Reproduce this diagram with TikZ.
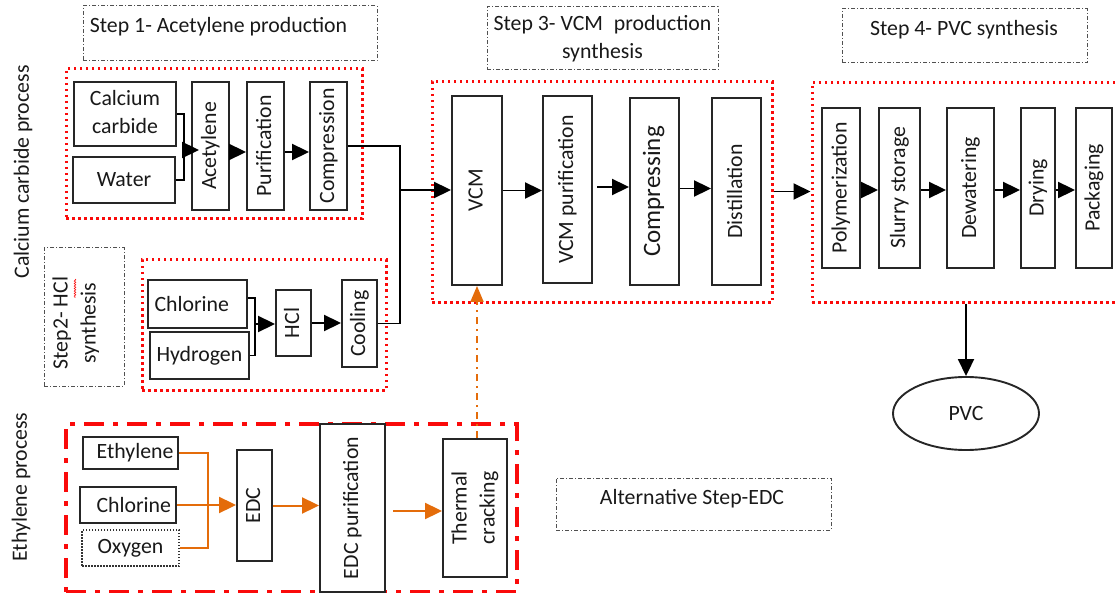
\documentclass[tikz,border=0pt]{standalone}
\usepackage{fontspec}
\setmainfont{Carlito}
\usetikzlibrary{arrows.meta,decorations.pathmorphing,calc,shapes.geometric}
\definecolor{myred}{RGB}{250,10,10}
\definecolor{myorange}{RGB}{228,108,10}
\definecolor{lblgray}{RGB}{80,80,80}
\newcommand{\vt}[1]{\rotatebox{90}{\begin{tabular}{@{}c@{}}#1\end{tabular}}}
\begin{document}
\begin{tikzpicture}[x=1pt,y=-1pt,
  every node/.style={font=\fontsize{21.8}{28}\selectfont, inner sep=0pt, text=black!90},
  box/.style={draw=black!85, line width=1.9pt, fill=white, rectangle, inner sep=0pt},
  redbox/.style={draw=myred, line width=3pt, dash pattern=on 2.5pt off 3.5pt, rectangle, inner sep=0pt},
  redchain/.style={draw=myred, line width=3.2pt, dash pattern=on 20pt off 9pt on 5pt off 9pt, rectangle, inner sep=0pt},
  lblbox/.style={draw=lblgray, line width=1pt, dash pattern=on 4pt off 2pt on 1pt off 2pt, rectangle, inner sep=0pt},
  arr/.style={line width=1.9pt, -{Triangle[length=17pt,width=16pt]}},
  ln/.style={line width=1.9pt},
  oarr/.style={draw=myorange, line width=2pt, -{Triangle[length=17pt,width=16pt]}},
  oln/.style={draw=myorange, line width=2pt},
]
\useasboundingbox (0,0) rectangle (1115,593);

% red group frames
\node[redbox, minimum width=296, minimum height=150] (R1) at (214,144) {};
\node[redbox, minimum width=244, minimum height=130] (R2) at (264,325) {};
\node[redbox, minimum width=340, minimum height=220] (R3) at (602,192) {};
\node[redbox, minimum width=306, minimum height=219] (R4) at (965,192.5) {};
\node[redchain, minimum width=451, minimum height=168] (R5) at (291.5,508) {};

% step labels
\node[lblbox, minimum width=294, minimum height=55] (S1) at (230,33.5) {};
\node (S1t) at (218.5,27) {Step 1- Acetylene production};
\node[lblbox, minimum width=231, minimum height=63, align=center] (S3) at (602.5,38.5) {Step 3- VCM\hspace{6pt} production\\synthesis};
\node[lblbox, minimum width=245, minimum height=54] (S4) at (964.5,36) {};
\node (S4t) at (964,30) {Step 4- PVC synthesis};
\node[lblbox, minimum width=80, minimum height=138] (S2) at (84,317) {};
\node (S2t) at (76,323) {\vt{Step2- HCl\\synthesis}};
\draw[myred, line width=0.6pt, decorate, decoration={snake, amplitude=0.8pt, segment length=2.5pt}] (75,279) -- (75,298);
\node[lblbox, minimum width=275, minimum height=52] (SA) at (693.5,504) {};
\node (SAt) at (692,499) {Alternative Step-EDC};

% process side labels
\node (cp) at (23,172) {\rotatebox{90}{Calcium carbide process}};
\node (ep) at (21,487) {\rotatebox{90}{Ethylene process}};

% Step 1 boxes
\node[box, minimum width=102, minimum height=64] (cac) at (125,114) {\begin{tabular}{@{}c@{}}Calcium\\carbide\end{tabular}};
\node[box, minimum width=102, minimum height=46] (wat) at (124,180) {Water};
\node[box, minimum width=37, minimum height=128] (acet) at (210.5,146) {\vt{Acetylene}};
\node[box, minimum width=37, minimum height=128] (pur) at (265.5,146) {\vt{Purification}};
\node[box, minimum width=37, minimum height=128] (comp) at (328.5,146) {\vt{Compression}};

% Step 2 boxes
\node[box, minimum width=99, minimum height=48, text width=86, align=left] (chl) at (197.5,304) {Chlorine};
\node[box, minimum width=99, minimum height=47, text width=86, align=left] (hyd) at (199.5,355.5) {Hydrogen};
\node[box, minimum width=35, minimum height=66] (hcl) at (293.5,323) {\vt{HCl}};
\node[box, minimum width=35, minimum height=87] (cool) at (359.5,323.5) {\vt{Cooling}};

% Step 3 boxes
\node[box, minimum width=50, minimum height=189] (vcm) at (477,190.5) {\vt{VCM}};
\node[box, minimum width=49, minimum height=187] (vcmp) at (567.5,189.5) {\vt{VCM purification}};
\node[box, minimum width=49, minimum height=187, font=\fontsize{25}{28}\selectfont] (cmpg) at (654.5,191.5) {\vt{Compressing}};
\node[box, minimum width=49, minimum height=187] (dist) at (736.5,191.5) {\vt{Distillation}};

% Step 4 boxes
\node[box, minimum width=38, minimum height=160] (poly) at (841,188) {\vt{Polymerization}};
\node[box, minimum width=41, minimum height=160] (slur) at (899.5,188) {\vt{Slurry storage}};
\node[box, minimum width=47, minimum height=160] (dewa) at (970.5,188) {\vt{Dewatering}};
\node[box, minimum width=34, minimum height=160] (dry) at (1038,188) {\vt{Drying}};
\node[box, minimum width=36, minimum height=160] (pack) at (1094,188) {\vt{Packaging}};
\node[ellipse, draw=black!85, line width=1.9pt, minimum width=146, minimum height=73] (pvc) at (966,413.5) {PVC};

% Ethylene route boxes
\node[box, minimum width=95, minimum height=32, text width=86, align=right] (eth) at (130.5,453) {Ethylene};
\node[box, minimum width=96, minimum height=36, text width=86, align=right] (chl2) at (128,505) {Chlorine};
\node[box, draw=black!80, line width=1.3pt, dash pattern=on 1.5pt off 1.5pt, minimum width=97, minimum height=36] (oxy) at (130.5,548) {Oxygen};
\node[box, minimum width=35, minimum height=111] (edc) at (254.5,505.5) {\vt{EDC}};
\node[box, minimum width=65, minimum height=168] (edcp) at (352.5,508) {\vt{EDC purification}};
\node[box, minimum width=64, minimum height=138] (therm) at (475,508) {\vt{Thermal\\cracking}};

% connectors step 1
\coordinate (j1) at (184,150);
\draw[ln] (cac.east) -| (j1);
\draw[ln] (wat.east) -| (j1);
\draw[arr, shorten >=-8pt] (j1) -- (j1 -| acet.west);
\draw[arr] ($(acet.east)+(0,6)$) -- ($(pur.west)+(0,6)$);
\draw[arr] ($(pur.east)+(0,6)$) -- ($(comp.west)+(0,6)$);
\coordinate (j2) at (400,190);
\draw[ln] (comp.east) -| (j2);
\draw[ln] (cool.east) -| (j2);
\draw[arr] (j2) -- (j2 -| vcm.west);

% connectors step 2
\coordinate (j3) at (255,324);
\draw[ln] ($(chl.east)+(0,-6)$) -| (j3);
\draw[ln] (hyd.east) -| (j3);
\draw[arr] (j3) -- (j3 -| hcl.west);
\draw[arr] (hcl.east) -- (hcl.east -| cool.west);

% connectors step 3
\draw[arr] (vcm.east) -- (vcm.east -| vcmp.west);
\coordinate (c1) at (597,187);
\draw[arr] (c1) -- (c1 -| cmpg.west);
\draw[arr] ($(cmpg.east)+(0,-3)$) -- ($(dist.west)+(0,-3)$);
\draw[arr] (dist.east -| R3.east) -- (dist.east -| R4.west);

% connectors step 4
\draw[arr] ($(poly.east)+(0,2)$) -- ($(slur.west)+(0,2)$);
\draw[arr] ($(slur.east)+(0,2)$) -- ($(dewa.west)+(0,2)$);
\draw[arr] ($(dewa.east)+(0,2)$) -- ($(dry.west)+(0,2)$);
\draw[arr] ($(dry.east)+(0,2)$) -- ($(pack.west)+(0,2)$);
\draw[arr] (pvc.north |- R4.south) -- (pvc.north);

% ethylene route connectors
\coordinate (j4) at (208,500);
\draw[oln] (eth.east) -- (eth.east -| j4) -- (oxy.east -| j4) -- (oxy.east);
\draw[oarr] (chl2.east) -- (chl2.east -| edc.west);
\draw[oarr] (edc.east) -- (edc.east -| edcp.west);
\coordinate (c2) at (393,511);
\draw[oarr] (c2) -- (c2 -| therm.west);
\draw[oarr, -{Triangle[length=16pt,width=13pt]}, dash pattern=on 7pt off 5pt on 2pt off 5pt] (therm.north -| vcm.south) -- (vcm.south);
\end{tikzpicture}
\end{document}
